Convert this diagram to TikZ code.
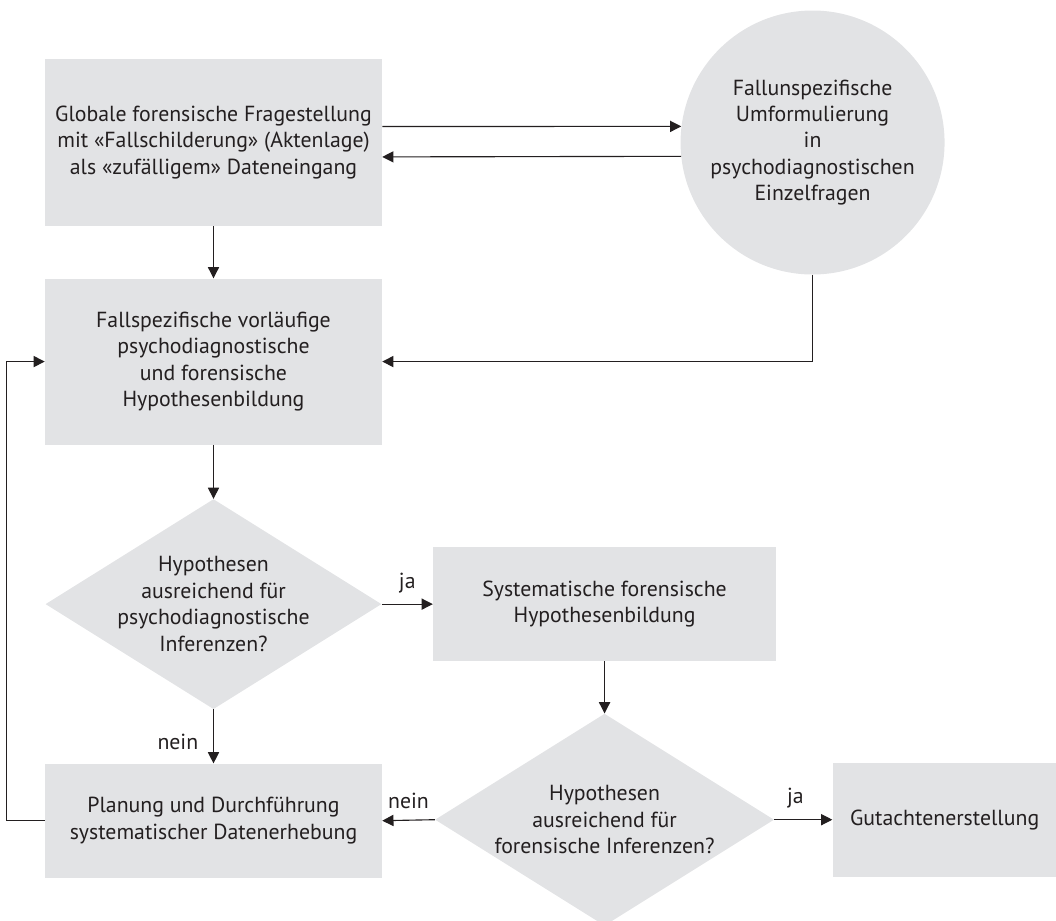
\documentclass[tikz,border=0pt]{standalone}
\usepackage{fontspec}
\setmainfont{PT Sans}
\usepackage{tikz}
\usetikzlibrary{arrows.meta,positioning,shapes.geometric}
\definecolor{kastengrau}{RGB}{226,227,229}
\definecolor{schrift}{RGB}{35,31,32}
\tikzset{
    %Define standard arrow tip
    >={Triangle[length=2.8mm,width=2.8mm]},
    %Define style for boxes
    kasten/.style={
           rectangle,
           fill=kastengrau,
           text=schrift,
           align=center,
           font=\fontsize{15.5}{18.8}\selectfont,
           inner sep=0pt},
    kreis/.style={
           kasten,
           circle,
           minimum size=6.6cm},
    raute/.style={
           kasten,
           diamond,
           inner sep=-5mm},
    % Define arrow style
    pfeil/.style={
           ->,
           draw=schrift,
           line width=0.8pt},
    marke/.style={
           text=schrift,
           font=\fontsize{15.5}{18.8}\selectfont}
}

\begin{document}
\begin{tikzpicture}[node distance=1.3cm, auto,]
      \useasboundingbox (0,0) rectangle (26.4,-23.025);
      \node[kasten, minimum width=8.425cm, minimum height=4.175cm] (frage) at (5.3375,-3.5625)
        {Globale forensische Fragestellung\\mit «Fallschilderung» (Aktenlage)\\als «zufälligem» Dateneingang};
      \node[kreis, right=7.45cm of frage] (umform)
        {Fallunspezifische\\Umformulierung\\in\\psychodiagnostischen\\Einzelfragen};
      \node[kasten, minimum width=8.425cm, minimum height=4.15cm, below=1.3cm of frage] (hypo)
        {Fallspezifische vorläufige\\psychodiagnostische\\und forensische\\Hypothesenbildung};
      \node[raute, minimum width=8.4cm, minimum height=5.25cm, below=1.35cm of hypo] (test1)
        {Hypothesen\\ausreichend für\\psychodiagnostische\\Inferenzen?};
      \node[kasten, minimum width=8.425cm, minimum height=2.85cm, below=1.35cm of test1] (planung)
        {Planung und Durchführung\\systematischer Datenerhebung};
      \node[kasten, minimum width=8.575cm, minimum height=2.85cm, right=1.275cm of test1] (syst)
        {Systematische forensische\\Hypothesenbildung};
      \node[raute, minimum width=8.475cm, minimum height=5.3cm, below=1.3cm of syst] (test2)
        {Hypothesen\\ausreichend für\\forensische Inferenzen?};
      \node[kasten, minimum width=5.6cm, minimum height=2.85cm, right=1.45cm of test2] (gutachten)
        {Gutachtenerstellung};

      \draw[pfeil] ([yshift=4mm]frage.east) -- (umform.173);
      \draw[pfeil] (umform.186) -- ([yshift=-3.6mm]frage.east);
      \draw[pfeil] (frage.south) -- (hypo.north);
      \draw[pfeil] (umform.south) |- (hypo.east);
      \draw[pfeil] (hypo.south) -- (test1.north);

      \draw[pfeil] (test1.east) -- node[marke, above=1.5mm] {ja} (syst.west);
      \draw[pfeil] (test1.south) -- node[marke, left=2.5mm, yshift=-1.5mm] {nein} (planung.north);
      \draw[pfeil] (syst.south) -- (test2.north);
      \draw[pfeil] (test2.west) -- node[marke, above=1.5mm] {nein} (planung.east);
      \draw[pfeil] (test2.east) -- node[marke, above=1.5mm, xshift=-2mm] {ja} (gutachten.west);

      \draw[pfeil] (planung.west) -- ++(-0.95cm,0) |- (hypo.west);
  \end{tikzpicture}
\end{document}
